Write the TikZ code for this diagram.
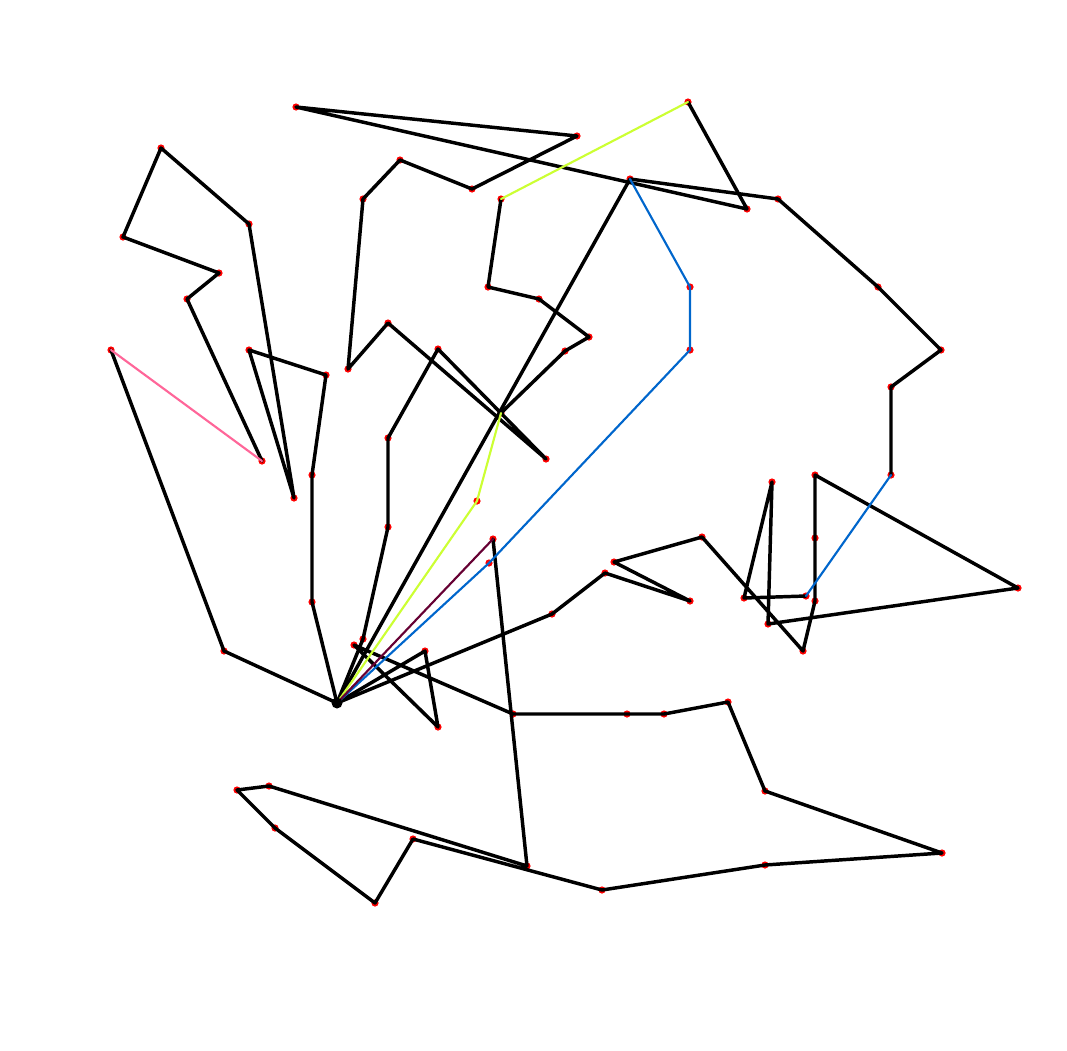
\documentclass[tikz,border=0pt]{standalone}
\usepackage{tikz}
\definecolor{routelime}{RGB}{204,255,51}
\definecolor{routepink}{RGB}{255,102,153}
\definecolor{routeblue}{RGB}{0,102,204}
\definecolor{routeplum}{RGB}{102,0,51}
\tikzset{
  route/.style={line width=2.6pt, line join=round, line cap=round},
  swap/.style={line width=1.6pt, line cap=round},
}
\begin{document}
\begin{tikzpicture}[x=0.75pt,y=-0.75pt]
  \useasboundingbox (0,0) rectangle (1067,1050);
  \coordinate (d) at (337,703);
  % route a
  \foreach \n/\x/\y in {a1/224/651, a2/111/350, a3/262/461, a4/187/299, a5/219/273, a6/123/237, a7/161/148,
    a8/249/224, a9/294/498, a10/249/350, a11/326/375, a12/312/475, a13/312/602}
    \coordinate (\n) at (\x,\y);
  % route b
  \foreach \n/\x/\y in {b1/363/639, b2/388/527, b3/388/438, b4/438/349, b5/546/459, b6/388/323, b7/348/369,
    b8/363/199, b9/400/160, b10/472/189, b11/577/136, b12/296/107, b13/747/209, b14/688/102, b15/501/199,
    b16/488/287, b17/539/299, b18/589/337, b19/565/351, b20/501/413, b21/477/501}
    \coordinate (\n) at (\x,\y);
  % route c
  \foreach \n/\x/\y in {c1/552/614, c2/605/573, c3/690/601, c4/614/562, c5/702/537, c6/803/651, c7/815/601,
    c8/815/538, c9/815/475, c10/1018/588, c11/768/624, c12/772/482, c13/744/598, c14/806/596, c15/891/475,
    c16/891/387, c17/941/350, c18/878/287, c19/778/199, c20/630/179}
    \coordinate (\n) at (\x,\y);
  % route e and g
  \foreach \n/\x/\y in {e1/489/563, e2/690/350, e3/690/287,
    g1/425/651, g2/438/727, g3/354/645, g4/513/714, g5/627/714, g6/664/714, g7/728/702, g8/765/791,
    g9/942/853, g10/765/865, g11/602/890, g12/413/839, g13/375/903, g14/275/828, g15/237/790,
    g16/269/786, g17/527/866, g18/493/539}
    \coordinate (\n) at (\x,\y);
  \foreach \n in {a1,a2,a3,a4,a5,a6,a7,a8,a9,a10,a11,a12,a13,
    b1,b2,b3,b4,b5,b6,b7,b8,b9,b10,b11,b12,b13,b14,b15,b16,b17,b18,b19,b20,b21,
    c1,c2,c3,c4,c5,c6,c7,c8,c9,c10,c11,c12,c13,c14,c15,c16,c17,c18,c19,c20,
    e1,e2,e3,g1,g2,g3,g4,g5,g6,g7,g8,g9,g10,g11,g12,g13,g14,g15,g16,g17,g18}
    \fill[red] (\n) circle (3.6);
  \draw[route] (d) -- (a1) -- (a2);
  \draw[route] (a3) -- (a4) -- (a5) -- (a6) -- (a7) -- (a8) -- (a9) -- (a10) -- (a11) -- (a12) -- (a13) -- (d);
  \draw[route] (d) -- (b1) -- (b2) -- (b3) -- (b4) -- (b5) -- (b6) -- (b7) -- (b8) -- (b9) -- (b10) -- (b11)
    -- (b12) -- (b13) -- (b14);
  \draw[route] (b15) -- (b16) -- (b17) -- (b18) -- (b19) -- (b20);
  \draw[route] (d) -- (c1) -- (c2) -- (c3) -- (c4) -- (c5) -- (c6) -- (c7) -- (c8) -- (c9) -- (c10) -- (c11)
    -- (c12) -- (c13) -- (c14);
  \draw[route] (c15) -- (c16) -- (c17) -- (c18) -- (c19) -- (c20) -- (d);
  \draw[route] (d) -- (g1) -- (g2) -- (g3) -- (g4) -- (g5) -- (g6) -- (g7) -- (g8) -- (g9) -- (g10) -- (g11)
    -- (g12) -- (g13) -- (g14) -- (g15) -- (g16) -- (g17) -- (g18);
  \draw[swap, routepink] (a2) -- (a3);
  \draw[swap, routelime] (b14) -- (b15);
  \draw[swap, routelime] (b20) -- (b21) -- (d);
  \draw[swap, routeblue] (c14) -- (c15);
  \draw[swap, routeblue] (d) -- (e1) -- (e2) -- (e3) -- (c20);
  \draw[swap, routeplum] (g18) -- (d);
  \fill (d) circle (5.5);
\end{tikzpicture}
\end{document}
